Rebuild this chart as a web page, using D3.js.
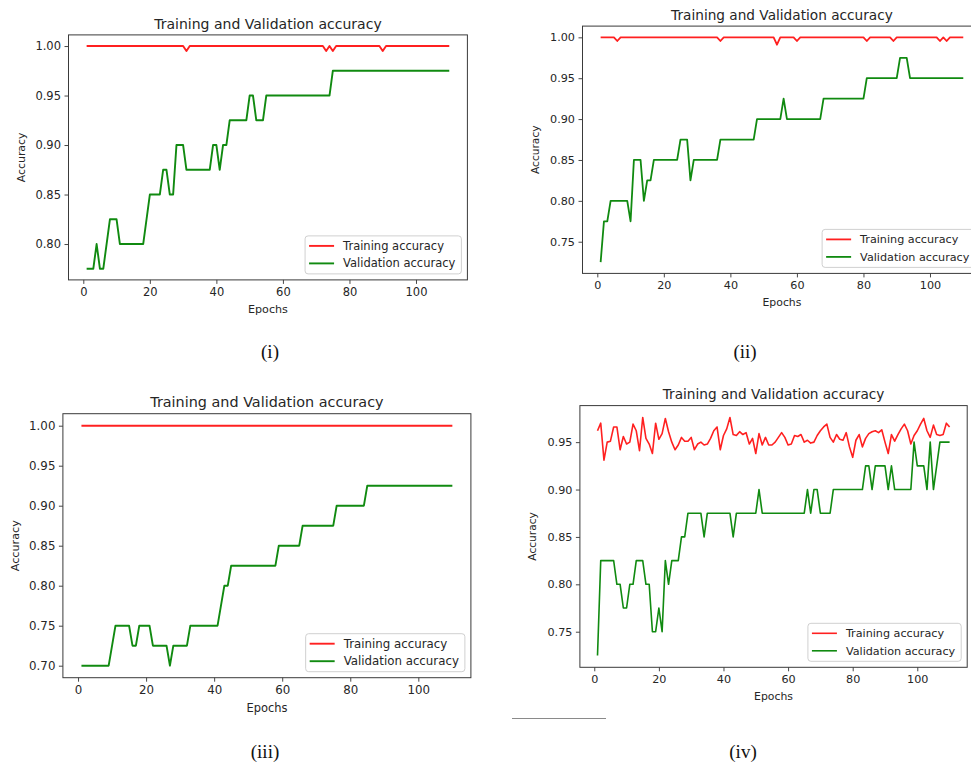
<!DOCTYPE html>
<html>
<head>
<meta charset="utf-8">
<script src="https://cdn.jsdelivr.net/npm/d3@7"></script>
<style>
  html, body { margin: 0; padding: 0; background: #fff; }
  svg { display: block; }
  text { font-family: "DejaVu Sans", sans-serif; fill: #262626; }
  .caption { font-family: "Liberation Serif", "Times New Roman", serif; fill: #111; }
</style>
</head>
<body>
<div id="chart"></div>
<script>
// Epoch index shared by all four runs
const epochs = d3.range(1, 111);
const xTicks = [0, 20, 40, 60, 80, 100];

// (i)
const trainA = [
  1, 1, 1, 1, 1, 1, 1, 1, 1, 1,
  1, 1, 1, 1, 1, 1, 1, 1, 1, 1,
  1, 1, 1, 1, 1, 1, 1, 1, 1, 1,
  0.995, 1, 1, 1, 1, 1, 1, 1, 1, 1,
  1, 1, 1, 1, 1, 1, 1, 1, 1, 1,
  1, 1, 1, 1, 1, 1, 1, 1, 1, 1,
  1, 1, 1, 1, 1, 1, 1, 1, 1, 1,
  1, 1, 0.995, 1, 0.995, 1, 1, 1, 1, 1,
  1, 1, 1, 1, 1, 1, 1, 1, 1, 0.995,
  1, 1, 1, 1, 1, 1, 1, 1, 1, 1,
  1, 1, 1, 1, 1, 1, 1, 1, 1, 1
];
const valA = [
  0.775, 0.775, 0.775, 0.800, 0.775, 0.775, 0.800, 0.825, 0.825, 0.825,
  0.800, 0.800, 0.800, 0.800, 0.800, 0.800, 0.800, 0.800, 0.825, 0.850,
  0.850, 0.850, 0.850, 0.875, 0.875, 0.850, 0.850, 0.900, 0.900, 0.900,
  0.875, 0.875, 0.875, 0.875, 0.875, 0.875, 0.875, 0.875, 0.900, 0.900,
  0.875, 0.900, 0.900, 0.925, 0.925, 0.925, 0.925, 0.925, 0.925, 0.950,
  0.950, 0.925, 0.925, 0.925, 0.950, 0.950, 0.950, 0.950, 0.950, 0.950,
  0.950, 0.950, 0.950, 0.950, 0.950, 0.950, 0.950, 0.950, 0.950, 0.950,
  0.950, 0.950, 0.950, 0.950, 0.975, 0.975, 0.975, 0.975, 0.975, 0.975,
  0.975, 0.975, 0.975, 0.975, 0.975, 0.975, 0.975, 0.975, 0.975, 0.975,
  0.975, 0.975, 0.975, 0.975, 0.975, 0.975, 0.975, 0.975, 0.975, 0.975,
  0.975, 0.975, 0.975, 0.975, 0.975, 0.975, 0.975, 0.975, 0.975, 0.975
];
const yTicksA = [0.80, 0.85, 0.90, 0.95, 1.00];

// (ii)
const trainB = [
  1, 1, 1, 1, 1, 0.9955, 1, 1, 1, 1,
  1, 1, 1, 1, 1, 1, 1, 1, 1, 1,
  1, 1, 1, 1, 1, 1, 1, 1, 1, 1,
  1, 1, 1, 1, 1, 1, 0.9955, 1, 1, 1,
  1, 1, 1, 1, 1, 1, 1, 1, 1, 1,
  1, 1, 1, 0.991, 1, 1, 1, 1, 1, 0.9955,
  1, 1, 1, 1, 1, 1, 1, 1, 1, 1,
  1, 1, 1, 1, 1, 1, 1, 1, 1, 1,
  0.9955, 1, 1, 1, 1, 1, 1, 1, 0.9955, 1,
  1, 1, 1, 1, 1, 1, 1, 1, 1, 1,
  1, 1, 0.9955, 1, 0.9955, 1, 1, 1, 1, 1
];
const valB = [
  0.725, 0.775, 0.775, 0.800, 0.800, 0.800, 0.800, 0.800, 0.800, 0.775,
  0.850, 0.850, 0.850, 0.800, 0.825, 0.825, 0.850, 0.850, 0.850, 0.850,
  0.850, 0.850, 0.850, 0.850, 0.875, 0.875, 0.875, 0.825, 0.850, 0.850,
  0.850, 0.850, 0.850, 0.850, 0.850, 0.850, 0.875, 0.875, 0.875, 0.875,
  0.875, 0.875, 0.875, 0.875, 0.875, 0.875, 0.875, 0.900, 0.900, 0.900,
  0.900, 0.900, 0.900, 0.900, 0.900, 0.925, 0.900, 0.900, 0.900, 0.900,
  0.900, 0.900, 0.900, 0.900, 0.900, 0.900, 0.900, 0.925, 0.925, 0.925,
  0.925, 0.925, 0.925, 0.925, 0.925, 0.925, 0.925, 0.925, 0.925, 0.925,
  0.950, 0.950, 0.950, 0.950, 0.950, 0.950, 0.950, 0.950, 0.950, 0.950,
  0.975, 0.975, 0.975, 0.950, 0.950, 0.950, 0.950, 0.950, 0.950, 0.950,
  0.950, 0.950, 0.950, 0.950, 0.950, 0.950, 0.950, 0.950, 0.950, 0.950
];
const yTicksB = [0.75, 0.80, 0.85, 0.90, 0.95, 1.00];

// (iii)
const trainC = [
  1, 1, 1, 1, 1, 1, 1, 1, 1, 1,
  1, 1, 1, 1, 1, 1, 1, 1, 1, 1,
  1, 1, 1, 1, 1, 1, 1, 1, 1, 1,
  1, 1, 1, 1, 1, 1, 1, 1, 1, 1,
  1, 1, 1, 1, 1, 1, 1, 1, 1, 1,
  1, 1, 1, 1, 1, 1, 1, 1, 1, 1,
  1, 1, 1, 1, 1, 1, 1, 1, 1, 1,
  1, 1, 1, 1, 1, 1, 1, 1, 1, 1,
  1, 1, 1, 1, 1, 1, 1, 1, 1, 1,
  1, 1, 1, 1, 1, 1, 1, 1, 1, 1,
  1, 1, 1, 1, 1, 1, 1, 1, 1, 1
];
const valC = [
  0.700, 0.700, 0.700, 0.700, 0.700, 0.700, 0.700, 0.700, 0.700, 0.725,
  0.750, 0.750, 0.750, 0.750, 0.750, 0.725, 0.725, 0.750, 0.750, 0.750,
  0.750, 0.725, 0.725, 0.725, 0.725, 0.725, 0.700, 0.725, 0.725, 0.725,
  0.725, 0.725, 0.750, 0.750, 0.750, 0.750, 0.750, 0.750, 0.750, 0.750,
  0.750, 0.775, 0.800, 0.800, 0.825, 0.825, 0.825, 0.825, 0.825, 0.825,
  0.825, 0.825, 0.825, 0.825, 0.825, 0.825, 0.825, 0.825, 0.850, 0.850,
  0.850, 0.850, 0.850, 0.850, 0.850, 0.875, 0.875, 0.875, 0.875, 0.875,
  0.875, 0.875, 0.875, 0.875, 0.875, 0.900, 0.900, 0.900, 0.900, 0.900,
  0.900, 0.900, 0.900, 0.900, 0.925, 0.925, 0.925, 0.925, 0.925, 0.925,
  0.925, 0.925, 0.925, 0.925, 0.925, 0.925, 0.925, 0.925, 0.925, 0.925,
  0.925, 0.925, 0.925, 0.925, 0.925, 0.925, 0.925, 0.925, 0.925, 0.925
];
const yTicksC = [0.70, 0.75, 0.80, 0.85, 0.90, 0.95, 1.00];

// (iv)
const trainD = [
  0.962, 0.970, 0.931, 0.950, 0.951, 0.966, 0.966, 0.942, 0.956, 0.948,
  0.950, 0.969, 0.962, 0.941, 0.976, 0.954, 0.948, 0.938, 0.970, 0.953,
  0.959, 0.975, 0.961, 0.950, 0.942, 0.947, 0.955, 0.951, 0.951, 0.955,
  0.942, 0.948, 0.950, 0.947, 0.948, 0.954, 0.962, 0.966, 0.942, 0.957,
  0.964, 0.976, 0.958, 0.957, 0.961, 0.958, 0.960, 0.948, 0.954, 0.938,
  0.959, 0.947, 0.955, 0.947, 0.947, 0.950, 0.955, 0.960, 0.955, 0.947,
  0.948, 0.957, 0.956, 0.958, 0.950, 0.952, 0.949, 0.950, 0.957, 0.962,
  0.966, 0.969, 0.955, 0.950, 0.958, 0.953, 0.952, 0.960, 0.945, 0.934,
  0.952, 0.958, 0.945, 0.954, 0.959, 0.961, 0.962, 0.960, 0.963, 0.950,
  0.938, 0.958, 0.951, 0.958, 0.964, 0.969, 0.962, 0.948, 0.957, 0.962,
  0.969, 0.975, 0.962, 0.955, 0.968, 0.958, 0.957, 0.958, 0.970, 0.966
];
const valD = [
  0.725, 0.825, 0.825, 0.825, 0.825, 0.825, 0.800, 0.800, 0.775, 0.775,
  0.800, 0.800, 0.825, 0.825, 0.825, 0.800, 0.800, 0.750, 0.750, 0.775,
  0.750, 0.825, 0.800, 0.825, 0.825, 0.825, 0.850, 0.850, 0.875, 0.875,
  0.875, 0.875, 0.875, 0.850, 0.875, 0.875, 0.875, 0.875, 0.875, 0.875,
  0.875, 0.875, 0.850, 0.875, 0.875, 0.875, 0.875, 0.875, 0.875, 0.875,
  0.900, 0.875, 0.875, 0.875, 0.875, 0.875, 0.875, 0.875, 0.875, 0.875,
  0.875, 0.875, 0.875, 0.875, 0.875, 0.900, 0.875, 0.900, 0.900, 0.875,
  0.875, 0.875, 0.875, 0.900, 0.900, 0.900, 0.900, 0.900, 0.900, 0.900,
  0.900, 0.900, 0.900, 0.925, 0.925, 0.900, 0.925, 0.925, 0.925, 0.925,
  0.900, 0.925, 0.900, 0.900, 0.900, 0.900, 0.900, 0.900, 0.950, 0.925,
  0.925, 0.925, 0.900, 0.950, 0.900, 0.925, 0.950, 0.950, 0.950, 0.950
];
const yTicksD = [0.75, 0.80, 0.85, 0.90, 0.95];

const title = "Training and Validation accuracy";
const seriesNames = ["Training accuracy", "Validation accuracy"];
const captions = ["(i)", "(ii)", "(iii)", "(iv)"];

const width = 971, height = 769;

// frame boxes of the four sub-plots, font size per sub-plot
const panels = [
  { train: trainA, val: valA, yTicks: yTicksA, box: [68.5, 467.4, 34.9, 279.9], fs: 11.5, lw: 1.9, cap: [270, 358] },
  { train: trainB, val: valB, yTicks: yTicksB, box: [582.5, 981.4, 26.1, 273.4], fs: 11.2, lw: 1.8, cap: [745, 358] },
  { train: trainC, val: valC, yTicks: yTicksC, box: [62.9, 470.9, 413.7, 677.7], fs: 11.8, lw: 1.9, cap: [265, 758] },
  { train: trainD, val: valD, yTicks: yTicksD, box: [579.9, 967.2, 405.6, 667.3], fs: 11.2, lw: 1.6, cap: [743, 758] }
];

const svg = d3.select("#chart")
  .append("svg")
  .attr("width", width)
  .attr("height", height);

svg.append("rect").attr("width", width).attr("height", height).attr("fill", "#fff");

panels.forEach((p, i) => {
  const [left, right, top, bottom] = p.box;
  const g = svg.append("g");

  // matplotlib-like autoscale: data range padded by 5%
  const all = p.train.concat(p.val);
  const [lo, hi] = d3.extent(all);
  const pad = (hi - lo) * 0.05;
  const x = d3.scaleLinear().domain([1 - 109 * 0.05, 110 + 109 * 0.05]).range([left, right]);
  const y = d3.scaleLinear().domain([lo - pad, hi + pad]).range([bottom, top]);

  const line = d3.line()
    .x((d, j) => x(epochs[j]))
    .y(d => y(d));

  g.append("path")
    .attr("d", line(p.train))
    .attr("fill", "none")
    .attr("stroke", "#ff2020")
    .attr("stroke-width", p.lw)
    .attr("stroke-linejoin", "round");

  g.append("path")
    .attr("d", line(p.val))
    .attr("fill", "none")
    .attr("stroke", "#108a10")
    .attr("stroke-width", p.lw)
    .attr("stroke-linejoin", "round");

  // axes
  const xAxis = g.append("g")
    .attr("transform", `translate(0,${bottom})`)
    .call(d3.axisBottom(x).tickValues(xTicks).tickSize(4).tickPadding(3.5).tickFormat(d3.format("d")));
  const yAxis = g.append("g")
    .attr("transform", `translate(${left},0)`)
    .call(d3.axisLeft(y).tickValues(p.yTicks).tickSize(4).tickPadding(3.5).tickFormat(d3.format(".2f")));

  [xAxis, yAxis].forEach(a => {
    a.select(".domain").remove();
    a.selectAll(".tick line").attr("stroke", "#333").attr("stroke-width", 0.9);
    a.selectAll(".tick text")
      .attr("fill", "#262626")
      .style("font-family", '"DejaVu Sans", sans-serif')
      .style("font-size", p.fs + "px");
  });

  // frame
  g.append("rect")
    .attr("x", left).attr("y", top)
    .attr("width", right - left).attr("height", bottom - top)
    .attr("fill", "none")
    .attr("stroke", "#3a3a3a")
    .attr("stroke-width", 1);

  g.append("text")
    .attr("x", (left + right) / 2)
    .attr("y", top - 6.3)
    .attr("text-anchor", "middle")
    .style("font-size", (p.fs * 1.22) + "px")
    .text(title);

  g.append("text")
    .attr("x", (left + right) / 2)
    .attr("y", bottom + p.fs * 2.9)
    .attr("text-anchor", "middle")
    .style("font-size", (p.fs * 0.97) + "px")
    .text("Epochs");

  g.append("text")
    .attr("transform", `translate(${left - 47.5},${(top + bottom) / 2}) rotate(-90)`)
    .attr("dy", "0.35em")
    .attr("text-anchor", "middle")
    .style("font-size", (p.fs * 0.95) + "px")
    .text("Accuracy");

  // legend, lower right
  const lg = g.append("g");
  const probe = lg.append("text").style("font-size", p.fs + "px").text(seriesNames[1]);
  const tw = probe.node().getComputedTextLength();
  probe.remove();
  const lw = 38 + tw + 6, lh = 38;
  const lx = right - 6 - lw, ly = bottom - 6 - lh;
  lg.append("rect")
    .attr("x", lx).attr("y", ly)
    .attr("width", lw).attr("height", lh)
    .attr("rx", 3)
    .attr("fill", "#fff")
    .attr("fill-opacity", 0.85)
    .attr("stroke", "#d0d0d0");
  [["#ff2020", 10], ["#108a10", 27.5]].forEach(([c, dy], k) => {
    lg.append("line")
      .attr("x1", lx + 4).attr("x2", lx + 29)
      .attr("y1", ly + dy).attr("y2", ly + dy)
      .attr("stroke", c).attr("stroke-width", p.lw);
    lg.append("text")
      .attr("x", lx + 38).attr("y", ly + dy)
      .attr("dy", "0.35em")
      .style("font-size", p.fs + "px")
      .text(seriesNames[k]);
  });

  svg.append("text")
    .attr("class", "caption")
    .attr("x", p.cap[0]).attr("y", p.cap[1])
    .attr("text-anchor", "middle")
    .style("font-size", "19px")
    .text(captions[i]);
});

// stray rule under panel (iv)
svg.append("line")
  .attr("x1", 512).attr("x2", 606)
  .attr("y1", 718.5).attr("y2", 718.5)
  .attr("stroke", "#8a8a8a")
  .attr("stroke-width", 1);
</script>
</body>
</html>
